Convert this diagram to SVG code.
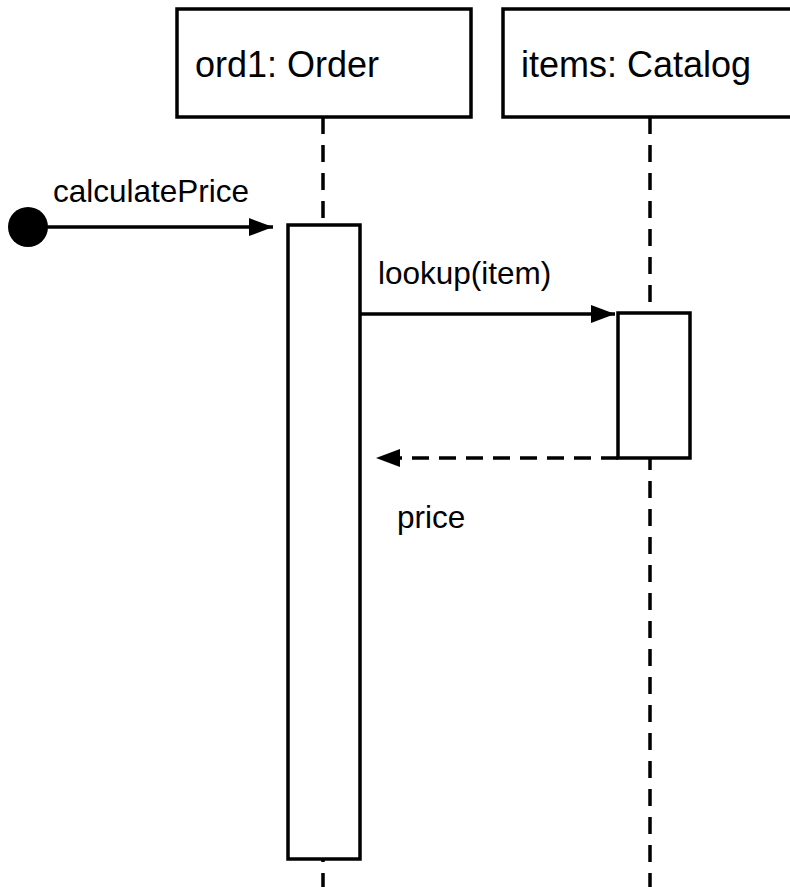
<svg xmlns="http://www.w3.org/2000/svg" width="790" height="887" viewBox="0 0 790 887">
<style>
.box{fill:#fff;stroke:#000;stroke-width:3.5}
.life{stroke:#000;stroke-width:3.5;stroke-dasharray:17 11;fill:none}
.msg{stroke:#000;stroke-width:3.5;fill:none}
.ret{stroke:#000;stroke-width:3.5;fill:none;stroke-dasharray:17 10}
.title{font-family:"Liberation Sans",Arial,sans-serif;font-size:36px;fill:#000}
.lbl{font-family:"Liberation Sans",Arial,sans-serif;font-size:31.5px;fill:#000}
</style>
<defs>
<marker id="ah" markerUnits="userSpaceOnUse" markerWidth="26" markerHeight="20" refX="24" refY="9" orient="auto">
<polygon points="0,0 24,9 0,18" fill="#000"/>
</marker>
</defs>
<g id="lifelines">
<line class="life" x1="323" y1="117" x2="323" y2="887"/>
<line class="life" x1="650" y1="117" x2="650" y2="887"/>
</g>
<g id="ord1">
<rect class="box" x="177" y="9" width="294" height="108"/>
<text class="title" x="195" y="77">ord1: Order</text>
</g>
<g id="items">
<rect class="box" x="503" y="9" width="294" height="108"/>
<text class="title" x="521" y="77">items: Catalog</text>
</g>
<g id="act1">
<rect class="box" x="288" y="225" width="72" height="634"/>
</g>
<g id="act2">
<rect class="box" x="618" y="313" width="72" height="145"/>
</g>
<g id="start">
<circle cx="28" cy="227" r="20" fill="#000"/>
</g>
<g id="connectors">
<line class="msg" x1="28" y1="227" x2="273" y2="227" marker-end="url(#ah)"/>
<line class="msg" x1="360" y1="314" x2="615" y2="314" marker-end="url(#ah)"/>
<line class="ret" x1="618" y1="458" x2="376" y2="458" marker-end="url(#ah)"/>
</g>
<g id="labels">
<text class="lbl" x="53" y="202">calculatePrice</text>
<text class="lbl" x="378" y="284">lookup(item)</text>
<text class="lbl" x="397" y="528">price</text>
</g>
</svg>
